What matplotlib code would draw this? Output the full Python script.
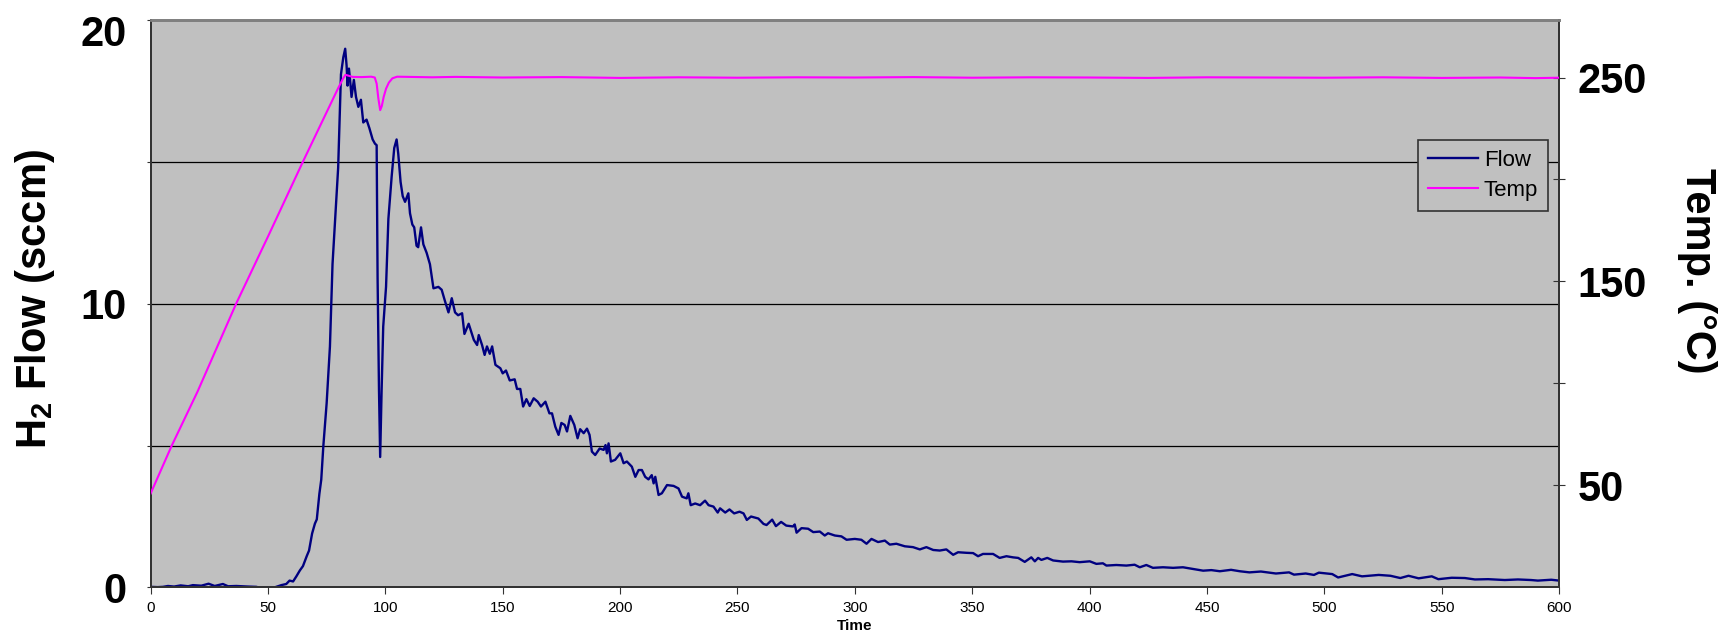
import matplotlib
matplotlib.use("Agg")
import matplotlib.pyplot as plt
import matplotlib.transforms as mtransforms

plt.rcParams['font.family'] = ['Liberation Sans', 'DejaVu Sans']
plt.rcParams['mathtext.fontset'] = 'custom'
plt.rcParams['mathtext.rm'] = 'Liberation Sans'
plt.rcParams['mathtext.bf'] = 'Liberation Sans:bold'

# H2 flow (sccm)
flow_time = [
    0, 3, 5.3, 7.4, 10, 12.8, 16, 18, 21.6, 24.7, 27.3, 30.8, 33, 36.5, 41.5, 45, 46, 52.8,
    55.7, 57.8, 59.2, 60.7, 62.1, 63.6, 64.9, 66.5, 67.5, 68.8, 70, 70.8, 71.9, 72.7, 73.6,
    75, 76.4, 77.5, 78.5, 79.9, 81.1, 82.1, 82.9, 83.5, 83.9, 84.5, 85.2, 85.6, 86.6, 87.5,
    88.5, 89.6, 90.6, 92, 93.2, 94.6, 95.6, 96.3, 96.7, 97.3, 97.8, 98.4, 99.1, 100.3, 101.3,
    102.7, 103.8, 104.8, 105.5, 106.5, 107.4, 108.4, 109.8, 110.5, 111.5, 112.3, 113.3, 114,
    115.2, 116.2, 117.6, 119, 120.5, 122.6, 124, 125.4, 126.9, 128.3, 129.7, 131, 132.7,
    133.7, 135.5, 137.7, 139.1, 139.8, 141.2, 142.3, 143.3, 144.5, 145.5, 146.9, 149, 150,
    151.4, 153, 155.1, 156.1, 157.5, 158.7, 160.1, 161.5, 163.2, 164.9, 166.3, 168.2, 169.9,
    171, 172.4, 173.8, 175, 176.4, 177.4, 178.8, 180.5, 181.9, 183, 184.5, 185.9, 187, 188,
    189.4, 191.3, 193, 193.8, 194.4, 195.1, 196.1, 197.9, 200.1, 201.5, 202.9, 205, 206.5,
    207.9, 209.3, 210.7, 212.1, 213.5, 214.3, 215, 216.4, 217.8, 220, 222.8, 224.9, 226.4,
    228.4, 229.1, 230.1, 232, 234.1, 236.2, 237.7, 239.8, 241.6, 242.6, 244.8, 246.6, 248.6,
    250.9, 252.6, 254, 255.8, 258.9, 261.1, 262.4, 264.8, 266.4, 268.6, 270.8, 273.7, 274.4,
    275.2, 277.3, 280.1, 282.3, 285.1, 287.2, 288.6, 291.5, 294.3, 296.5, 300, 302.8, 305,
    307.1, 309.9, 312.8, 314.9, 317.7, 321.3, 324.8, 327.7, 330.5, 333.4, 336.2, 339, 341.9,
    344, 347.6, 350.4, 352.5, 354.6, 358.9, 361.7, 364.6, 367.4, 369.6, 372.4, 375.2, 376.7,
    378.1, 379.5, 382, 384.5, 388.7, 392.3, 395.8, 400.1, 402.9, 405.7, 407.2, 411.4, 415.7,
    419.2, 421.4, 424.2, 427, 431.3, 435.6, 439.8, 444.1, 448.4, 451.9, 455.5, 460.3, 464,
    468.1, 473, 479.4, 485, 487.1, 492.1, 495.6, 497.7, 503.4, 505.9, 511.9, 516.1, 523.2,
    528.2, 532.4, 535.9, 540.2, 545.8, 548.6, 554.3, 559.9, 564.2, 569.8, 576.9, 582.5,
    588.1, 591, 596.7, 600,
]
flow = [
    0.02, 0.01, 0.02, 0.05, 0.03, 0.07, 0.04, 0.08, 0.06, 0.13, 0.05, 0.12, 0.04, 0.05, 0.03, 0.02, 0.0, 0.0,
    0.08, 0.12, 0.24, 0.21, 0.39, 0.6, 0.75, 1.1, 1.3, 1.9, 2.25, 2.4, 3.3, 3.8, 5.0,
    6.5, 8.5, 11.4, 12.8, 14.8, 18.1, 18.7, 19.0, 18.4, 17.7, 18.3, 17.7, 17.3, 17.9, 17.3,
    16.95, 17.2, 16.4, 16.5, 16.2, 15.8, 15.65, 15.6, 10.9, 6.95, 4.6, 6.9, 9.2, 10.6, 13.0,
    14.5, 15.5, 15.8, 15.3, 14.3, 13.8, 13.6, 13.9, 13.2, 12.8, 12.7, 12.05, 12.0,
    12.7, 12.1, 11.8, 11.4, 10.55, 10.6, 10.5, 10.1, 9.7, 10.2, 9.7, 9.6, 9.67,
    8.94, 9.3, 8.73, 8.55, 8.9, 8.55, 8.2, 8.5, 8.24, 8.5, 7.85, 7.73, 7.55,
    7.65, 7.3, 7.34, 7.0, 7.0, 6.38, 6.64, 6.4, 6.67, 6.55, 6.38, 6.55, 6.14,
    6.14, 5.67, 5.38, 5.8, 5.73, 5.5, 6.05, 5.73, 5.26, 5.58, 5.44, 5.6, 5.38, 4.79,
    4.67, 4.9, 4.85, 5.02, 4.73, 5.08, 4.44, 4.5, 4.73, 4.38, 4.44, 4.26, 3.9,
    4.14, 4.14, 3.9, 3.81, 3.96, 3.67, 3.9, 3.26, 3.32, 3.61, 3.58, 3.49, 3.2,
    3.14, 3.32, 2.9, 2.96, 2.9, 3.06, 2.9, 2.85, 2.64, 2.79, 2.64, 2.75, 2.61,
    2.67, 2.61, 2.38, 2.5, 2.43, 2.24, 2.2, 2.39, 2.16, 2.31, 2.18, 2.15, 2.22,
    1.93, 2.09, 2.07, 1.95, 1.97, 1.83, 1.91, 1.83, 1.8, 1.68, 1.71, 1.68, 1.54,
    1.71, 1.6, 1.65, 1.51, 1.54, 1.45, 1.42, 1.34, 1.42, 1.32, 1.3, 1.34, 1.15,
    1.24, 1.22, 1.21, 1.1, 1.18, 1.18, 1.04, 1.1, 1.06, 1.04, 0.9, 1.06, 0.92,
    1.04, 0.97, 1.04, 0.95, 0.91, 0.92, 0.89, 0.92, 0.83, 0.85, 0.77, 0.79, 0.77,
    0.8, 0.71, 0.79, 0.69, 0.71, 0.69, 0.71, 0.65, 0.59, 0.61, 0.57, 0.62, 0.57,
    0.53, 0.56, 0.49, 0.53, 0.45, 0.49, 0.44, 0.52, 0.47, 0.35, 0.47, 0.39, 0.44,
    0.41, 0.33, 0.41, 0.32, 0.39, 0.29, 0.34, 0.33, 0.28, 0.29, 0.26, 0.28,
    0.26, 0.24, 0.27, 0.24,
]

# temperature (deg C)
temp_time = [
    0, 9, 20, 36.4, 50, 64.8, 75, 80, 82, 83, 84, 86, 90, 94, 95.5, 96.3, 97, 97.8, 98.5,
    99.3, 100.3, 101.5, 103, 105, 110, 120, 130, 150, 175, 200, 225, 250, 275, 300, 325,
    350, 375, 400, 425, 450, 475, 500, 525, 550, 575, 590, 600,
]
temp = [
    46, 69.5, 96, 139, 172, 208.5, 233, 245, 249.5, 251.3, 251, 250.3, 250.2, 250.4, 250, 247,
    240, 234, 236, 240.5, 244.5, 247.5, 249.6, 250.4, 250.3, 250.1, 250.3, 250.0, 250.2,
    249.8, 250.1, 249.9, 250.1, 250.0, 250.2, 249.9, 250.1, 250.0, 249.8, 250.1, 250.0,
    249.9, 250.1, 249.8, 250.0, 249.7, 249.9,
]

flow_ticks = [0, 5, 10, 15, 20]
flow_labels = ['0', '', '10', '', '20']
temp_ticks = [50, 100, 150, 200, 250]
temp_labels = ['50', '', '150', '', '250']
time_ticks = list(range(0, 601, 50))

fig = plt.figure(figsize=(17.23, 6.39), dpi=100)
ax = fig.add_axes([150.6 / 1723, 1 - 587.4 / 639, (1559 - 150.6) / 1723, 567 / 639])
ax.set_facecolor('#C0C0C0')

for y in [5, 10, 15]:
    ax.axhline(y, color='black', lw=0.9, zorder=1)

l1, = ax.plot(flow_time, flow, color='#000080', lw=1.7, label='Flow', zorder=3)
ax.set_xlim(0, 600)
ax.set_ylim(0, 20)
ax.set_xticks(time_ticks)
ax.set_xticklabels([str(t) for t in time_ticks], fontsize=11)
ax.set_yticks(flow_ticks)
ax.set_yticklabels(flow_labels, fontsize=30, fontweight='bold')
ax.tick_params(axis='y', direction='out', length=3, pad=14, color='#333333')
ax.tick_params(axis='x', direction='out', length=5, pad=5, color='#333333')
ax.set_xlabel('Time', fontsize=11, fontweight='bold', labelpad=3)

# the top "20" label sits a little below its tick in the original
top_lbl = ax.get_yticklabels()[-1]
top_lbl.set_transform(top_lbl.get_transform()
                      + mtransforms.ScaledTranslation(0, -7 / 72, fig.dpi_scale_trans))

ax2 = ax.twinx()
l2, = ax2.plot(temp_time, temp, color='#FF00FF', lw=1.5, label='Temp', zorder=3)
ax2.set_ylim(0, 278)
ax2.set_yticks(temp_ticks)
ax2.set_yticklabels(temp_labels, fontsize=30, fontweight='bold')
ax2.tick_params(axis='y', direction='inout', length=9, pad=9, color='#333333')

for a in (ax, ax2):
    for side in ('left', 'bottom', 'right'):
        a.spines[side].set_color('#333333')
        a.spines[side].set_linewidth(1.4)
    a.spines['top'].set_color('#808080')
    a.spines['top'].set_linewidth(2)

fig.text(35 / 1723, 1 - 299 / 639, r'H$_{\mathbf{2}}$ Flow (sccm)', rotation=90,
         ha='center', va='center', fontsize=30, fontweight='bold')
fig.text(1697 / 1723, 1 - 271 / 639, 'Temp. (°C)', rotation=-90,
         ha='center', va='center', fontsize=30, fontweight='bold')

leg = ax2.legend([l1, l2], ['Flow', 'Temp'], loc='upper right', bbox_to_anchor=(0.9924, 0.789),
                 borderaxespad=0, fontsize=16, fancybox=False, framealpha=1,
                 facecolor='#C0C0C0', edgecolor='#333333', handlelength=2.25,
                 handletextpad=0.25, borderpad=0.45, labelspacing=0.4)
leg.get_frame().set_linewidth(1.2)

fig.savefig('out.png', dpi=100, facecolor='white')
